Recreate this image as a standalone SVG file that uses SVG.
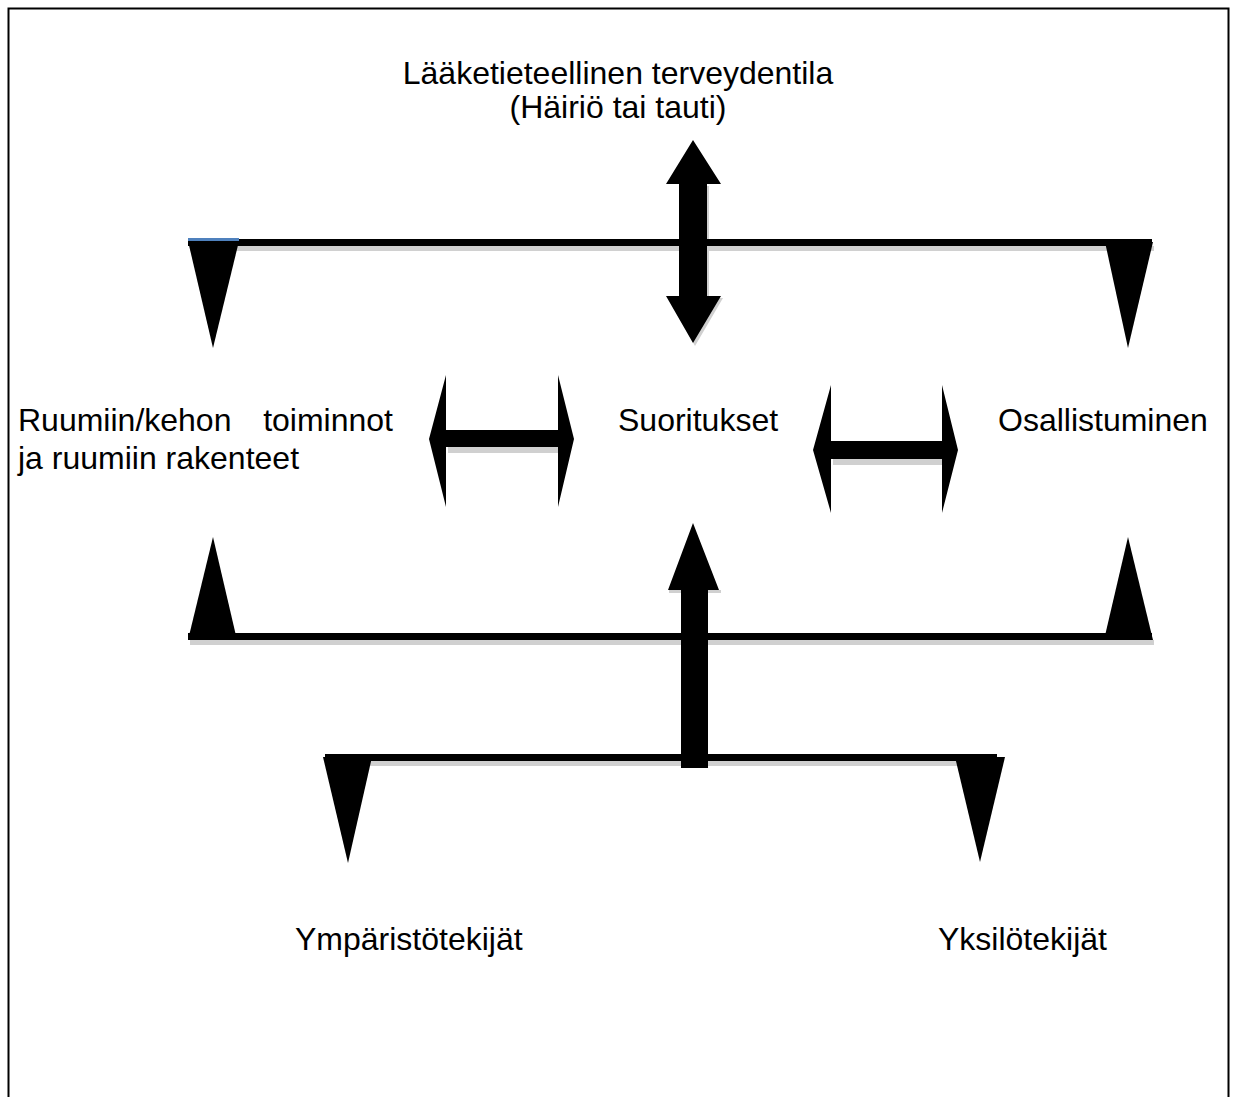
<svg xmlns="http://www.w3.org/2000/svg" width="1235" height="1097" viewBox="0 0 1235 1097">
<style>
.t{font-family:"Liberation Sans",Arial,sans-serif;font-size:32px;fill:#000}
.k{fill:#000}
.s{fill:#d0d0d0}
</style>
<rect x="0" y="0" width="1235" height="1097" fill="#fff"/>
<path d="M8.5 1097 V8.5 H1228.5 V1097" fill="none" stroke="#000" stroke-width="2"/>
<g id="connectors">
  <!-- shadows -->
  <rect class="s" x="190" y="246" width="964" height="5"/>
  <rect class="s" x="190" y="640" width="964" height="5"/>
  <rect class="s" x="327" y="761" width="672" height="5"/>
  <rect class="s" x="448" y="447" width="112" height="6"/>
  <rect class="s" x="833" y="459" width="111" height="6"/>
  <polygon class="s" points="668,186 723,186 709,186 709,298 723,298 695,346 668,298 681,298 681,186"/>
  <rect class="s" x="669" y="590" width="52" height="3"/>
  <!-- lines -->
  <rect class="k" x="188" y="239" width="964" height="7"/>
  <rect fill="#4f81bd" x="188" y="238" width="51" height="3"/>
  <rect class="k" x="188" y="633" width="964" height="7"/>
  <rect class="k" x="325" y="754" width="672" height="7"/>
  <!-- triangles -->
  <polygon class="k" points="188,241 239,241 213,348"/>
  <polygon class="k" points="1105,242 1153,242 1128,348"/>
  <polygon class="k" points="188,640 237,640 213,537"/>
  <polygon class="k" points="1104,640 1153,640 1128,537"/>
  <polygon class="k" points="323,757 372,757 348,863"/>
  <polygon class="k" points="955,757 1005,757 980,862"/>
  <!-- vertical double arrow -->
  <polygon class="k" points="693,140 721,184 707,184 707,296 721,296 693,343 666,296 679,296 679,184 666,184"/>
  <!-- up arrow -->
  <polygon class="k" points="693,523 719,590 708,590 708,768 681,768 681,590 668,590"/>
  <!-- horizontal double arrows -->
  <polygon class="k" points="429,439 446,375 446,430 558,430 558,375 574,439 558,507 558,447 446,447 446,507"/>
  <polygon class="k" points="813,450 831,385 831,441 942,441 942,385 958,450 942,513 942,459 831,459 831,513"/>
</g>
<g id="node-health">
  <text class="t" x="618" y="84" text-anchor="middle">Lääketieteellinen terveydentila</text>
  <text class="t" x="618" y="118" text-anchor="middle">(Häiriö tai tauti)</text>
</g>
<g id="node-body">
  <text class="t" x="18" y="431">Ruumiin/kehon</text>
  <text class="t" x="393" y="431" text-anchor="end">toiminnot</text>
  <text class="t" x="18" y="469">ja ruumiin rakenteet</text>
</g>
<g id="node-activities">
  <text class="t" x="618" y="431">Suoritukset</text>
</g>
<g id="node-participation">
  <text class="t" x="998" y="431">Osallistuminen</text>
</g>
<g id="node-environment">
  <text class="t" x="295" y="950">Ympäristötekijät</text>
</g>
<g id="node-personal">
  <text class="t" x="938" y="950">Yksilötekijät</text>
</g>
</svg>
